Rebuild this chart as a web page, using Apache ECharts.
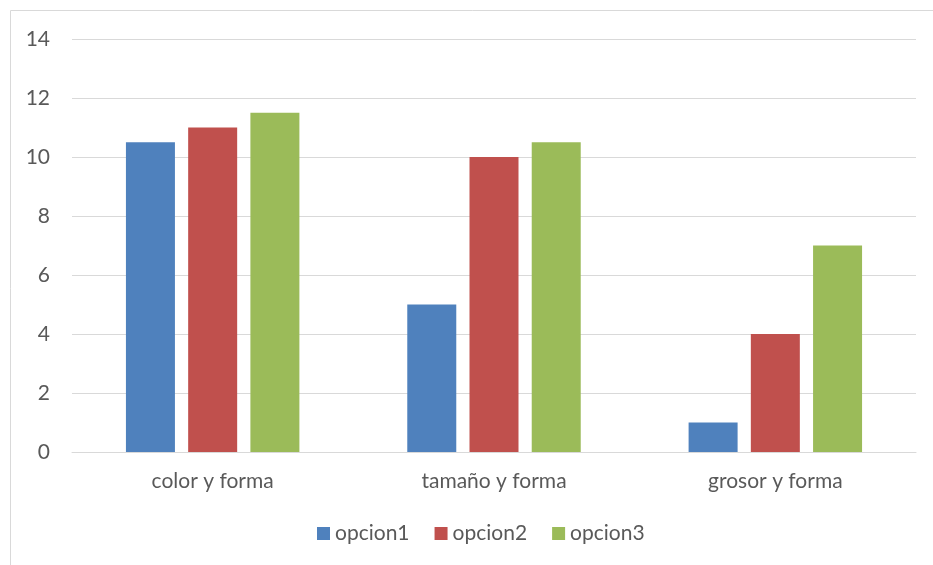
<!DOCTYPE html>
<html>
<head>
<meta charset="utf-8">
<script src="https://cdn.jsdelivr.net/npm/echarts@6/dist/echarts.min.js"></script>
<style>
  html, body { margin: 0; padding: 0; background: #fff; }
  #chart { width: 933px; height: 565px; }
</style>
</head>
<body>
<div id="chart"></div>
<script>
// Categories and values per option
const categories = ['color y forma', 'tamaño y forma', 'grosor y forma'];
const opcion1 = [10.5, 5, 1];
const opcion2 = [11, 10, 4];
const opcion3 = [11.5, 10.5, 7];
const seriesNames = ['opcion1', 'opcion2', 'opcion3'];
const yTicks = { min: 0, max: 14, interval: 2 };

const colors = ['#4F81BD', '#C0504D', '#9BBB59'];
const textColor = '#595959';
const fontFamily = 'Lato, "Open Sans", sans-serif';

const chart = echarts.init(document.getElementById('chart'), null, { renderer: 'canvas' });

const makeSeries = (name, data, i) => ({
  name: name,
  type: 'bar',
  data: data,
  barWidth: 49,
  barGap: '27%',
  itemStyle: { color: colors[i] }
});

chart.setOption({
  animation: false,
  color: colors,
  graphic: [{
    type: 'rect',
    shape: { x: 10.5, y: 10.5, width: 940, height: 580 },
    style: { fill: 'none', stroke: '#d9d9d9', lineWidth: 1 },
    silent: true
  }],
  grid: { left: 72, right: 17, top: 39, bottom: 113, containLabel: false },
  legend: {
    data: seriesNames,
    top: 518,
    left: 312,
    itemWidth: 13,
    itemHeight: 13,
    itemGap: 25,
    icon: 'rect',
    textStyle: { color: textColor, fontSize: 21, fontFamily: fontFamily }
  },
  xAxis: {
    type: 'category',
    data: categories,
    axisLine: { lineStyle: { color: '#d9d9d9', width: 1 } },
    axisTick: { show: false },
    axisLabel: { color: textColor, fontSize: 21, fontFamily: fontFamily, margin: 19 }
  },
  yAxis: {
    type: 'value',
    min: yTicks.min,
    max: yTicks.max,
    interval: yTicks.interval,
    axisLine: { show: false },
    axisTick: { show: false },
    splitLine: { lineStyle: { color: '#d9d9d9', width: 1 } },
    axisLabel: { color: textColor, fontSize: 21, fontFamily: fontFamily, margin: 22 }
  },
  series: [
    makeSeries(seriesNames[0], opcion1, 0),
    makeSeries(seriesNames[1], opcion2, 1),
    makeSeries(seriesNames[2], opcion3, 2)
  ]
});
</script>
</body>
</html>
